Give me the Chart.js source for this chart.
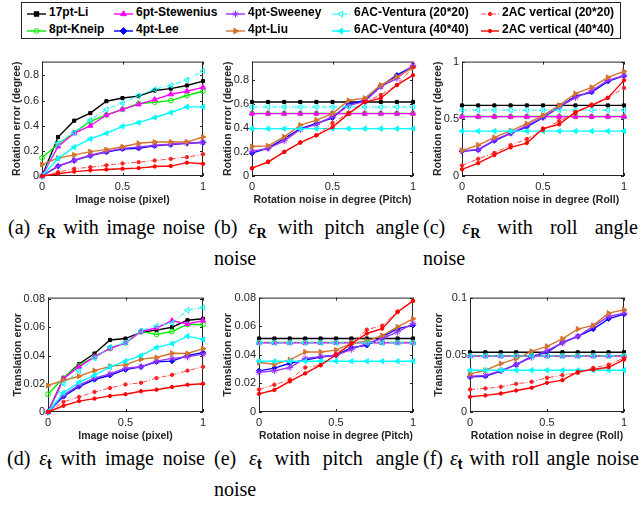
<!DOCTYPE html>
<html><head><meta charset="utf-8">
<script src="https://cdn.jsdelivr.net/npm/chart.js@4.4.0/dist/chart.umd.min.js"></script>
<style>
html,body{margin:0;padding:0;background:#fff;}
body{width:644px;height:506px;position:relative;overflow:hidden;font-family:'Liberation Sans',Arial,sans-serif;}
canvas{position:absolute;}
#legend{position:absolute;left:21px;top:2px;width:600px;height:37px;border:1px solid #262626;box-sizing:border-box;background:#fff;}
.li{position:absolute;font-weight:bold;font-size:12px;color:#000;white-space:nowrap;line-height:14px;}
.lm{position:absolute;}
.cap{position:absolute;font-family:'Liberation Serif','Times New Roman',serif;font-size:20px;line-height:20px;white-space:nowrap;color:#000;}
.cap sub{font-size:70%;vertical-align:-0.25em;line-height:0;}
.cap .eps{font-style:italic;}
.cap .bR{font-weight:bold;}
.cap .bt{font-weight:bold;font-family:'Liberation Sans',Arial,sans-serif;}
</style></head><body>
<div id="legend"></div>
<script>
// ---------- data ----------
const XS = [0, 0.1, 0.2, 0.3, 0.4, 0.5, 0.6, 0.7, 0.8, 0.9, 1.0];
const SERIES = ['17pt-Li','8pt-Kneip','6pt-Stewenius','4pt-Lee','4pt-Sweeney','4pt-Liu',
  '6AC-Ventura (20*20)','6AC-Ventura (40*40)','2AC vertical (20*20)','2AC vertical (40*40)'];

// (a) rotation error vs image noise
const ROT_IMAGE = [
  [0, 0.31, 0.44, 0.50, 0.595, 0.62, 0.635, 0.68, 0.695, 0.72, 0.755],
  [0.145, 0.255, 0.345, 0.435, 0.485, 0.53, 0.577, 0.587, 0.60, 0.64, 0.674],
  [0, 0.235, 0.34, 0.40, 0.485, 0.53, 0.57, 0.608, 0.65, 0.674, 0.705],
  [0, 0.078, 0.122, 0.162, 0.19, 0.215, 0.22, 0.24, 0.25, 0.26, 0.268],
  [0, 0.078, 0.125, 0.165, 0.195, 0.22, 0.23, 0.245, 0.252, 0.262, 0.265],
  [0.092, 0.142, 0.168, 0.194, 0.21, 0.233, 0.26, 0.27, 0.27, 0.27, 0.31],
  [0, 0.26, 0.345, 0.445, 0.53, 0.58, 0.64, 0.69, 0.72, 0.765, 0.835],
  [0, 0.14, 0.23, 0.295, 0.34, 0.395, 0.425, 0.465, 0.505, 0.55, 0.55],
  [0, 0.03, 0.058, 0.07, 0.085, 0.1, 0.11, 0.123, 0.136, 0.15, 0.173],
  [0, 0.018, 0.035, 0.045, 0.052, 0.058, 0.063, 0.076, 0.079, 0.106, 0.097]
];
// (b) rotation error vs pitch noise
const ROT_PITCH = [
  [0.615, 0.615, 0.615, 0.615, 0.615, 0.615, 0.615, 0.615, 0.615, 0.615, 0.615],
  [0.52, 0.52, 0.52, 0.52, 0.52, 0.52, 0.52, 0.52, 0.52, 0.52, 0.52],
  [0.518, 0.518, 0.518, 0.518, 0.518, 0.518, 0.518, 0.518, 0.518, 0.518, 0.518],
  [0.19, 0.232, 0.31, 0.393, 0.436, 0.483, 0.597, 0.627, 0.747, 0.837, 0.91],
  [0.205, 0.229, 0.292, 0.387, 0.428, 0.496, 0.584, 0.619, 0.742, 0.81, 0.92],
  [0.245, 0.25, 0.325, 0.423, 0.464, 0.518, 0.627, 0.646, 0.755, 0.824, 0.9],
  [0.573, 0.573, 0.573, 0.573, 0.573, 0.573, 0.573, 0.573, 0.573, 0.573, 0.573],
  [0.393, 0.393, 0.393, 0.393, 0.393, 0.393, 0.393, 0.393, 0.393, 0.393, 0.393],
  [0.065, 0.12, 0.2, 0.278, 0.338, 0.44, 0.523, 0.619, 0.673, 0.755, 0.905],
  [0.065, 0.115, 0.2, 0.278, 0.338, 0.406, 0.518, 0.614, 0.646, 0.755, 0.837]
];
// (c) rotation error vs roll noise
const ROT_ROLL = [
  [0.617, 0.617, 0.617, 0.617, 0.617, 0.617, 0.617, 0.617, 0.617, 0.617, 0.617],
  [0.52, 0.52, 0.52, 0.52, 0.52, 0.52, 0.52, 0.52, 0.52, 0.52, 0.52],
  [0.519, 0.519, 0.519, 0.519, 0.519, 0.519, 0.519, 0.519, 0.519, 0.519, 0.519],
  [0.216, 0.228, 0.308, 0.372, 0.43, 0.51, 0.602, 0.697, 0.732, 0.827, 0.876],
  [0.22, 0.23, 0.315, 0.375, 0.44, 0.515, 0.605, 0.685, 0.745, 0.835, 0.878],
  [0.222, 0.27, 0.337, 0.395, 0.458, 0.53, 0.617, 0.72, 0.775, 0.862, 0.914],
  [0.576, 0.576, 0.576, 0.576, 0.576, 0.576, 0.576, 0.576, 0.576, 0.576, 0.576],
  [0.392, 0.392, 0.392, 0.392, 0.392, 0.392, 0.392, 0.392, 0.392, 0.392, 0.392],
  [0.092, 0.15, 0.202, 0.27, 0.323, 0.403, 0.481, 0.548, 0.625, 0.683, 0.77],
  [0.058, 0.112, 0.184, 0.25, 0.288, 0.415, 0.452, 0.559, 0.617, 0.683, 0.836]
];
// (d) translation error vs image noise
const TRA_IMAGE = [
  [0, 0.024, 0.034, 0.0414, 0.051, 0.052, 0.0565, 0.058, 0.060, 0.065, 0.066],
  [0.0126, 0.024, 0.033, 0.039, 0.045, 0.049, 0.057, 0.055, 0.057, 0.062, 0.062],
  [0, 0.0235, 0.032, 0.039, 0.045, 0.049, 0.057, 0.0595, 0.0647, 0.0623, 0.0647],
  [0, 0.011, 0.018, 0.023, 0.026, 0.030, 0.032, 0.0356, 0.036, 0.040, 0.042],
  [0, 0.012, 0.019, 0.024, 0.027, 0.031, 0.032, 0.036, 0.038, 0.039, 0.041],
  [0.0188, 0.0223, 0.0253, 0.0293, 0.0323, 0.0335, 0.0374, 0.0386, 0.0416, 0.0414, 0.0449],
  [0, 0.02, 0.029, 0.038, 0.046, 0.049, 0.0577, 0.061, 0.063, 0.072, 0.074],
  [0, 0.0137, 0.021, 0.026, 0.032, 0.036, 0.040, 0.0456, 0.0484, 0.0537, 0.0514],
  [0, 0.0072, 0.0107, 0.0142, 0.017, 0.0195, 0.0207, 0.024, 0.0263, 0.0293, 0.032],
  [0, 0.0044, 0.0077, 0.0095, 0.0114, 0.0126, 0.0147, 0.0158, 0.0177, 0.0193, 0.02]
];
// (e) translation error vs pitch noise
const TRA_PITCH = [
  [0.0514, 0.0514, 0.0514, 0.0514, 0.0514, 0.0514, 0.0514, 0.0514, 0.0514, 0.0514, 0.0514],
  [0.0486, 0.0486, 0.0486, 0.0486, 0.0486, 0.0486, 0.0486, 0.0486, 0.0486, 0.0486, 0.0486],
  [0.0484, 0.0484, 0.0484, 0.0484, 0.0484, 0.0484, 0.0484, 0.0484, 0.0484, 0.0484, 0.0484],
  [0.0288, 0.0307, 0.0341, 0.0364, 0.0385, 0.0397, 0.045, 0.0466, 0.0526, 0.0583, 0.0606],
  [0.0277, 0.0288, 0.0311, 0.0374, 0.0387, 0.0397, 0.0438, 0.048, 0.0514, 0.056, 0.0618],
  [0.0346, 0.0334, 0.0364, 0.042, 0.042, 0.0433, 0.048, 0.0496, 0.0535, 0.0595, 0.0652],
  [0.0484, 0.0484, 0.0484, 0.0484, 0.0484, 0.0484, 0.0484, 0.0484, 0.0484, 0.0484, 0.0484],
  [0.0355, 0.0355, 0.0355, 0.0355, 0.0355, 0.0355, 0.0355, 0.0355, 0.0355, 0.0355, 0.0355],
  [0.0157, 0.0191, 0.0226, 0.0311, 0.0327, 0.0404, 0.0484, 0.0576, 0.0604, 0.0703, 0.0777],
  [0.0127, 0.0154, 0.0214, 0.027, 0.0327, 0.040, 0.0477, 0.0549, 0.0583, 0.0699, 0.0777]
];
// (f) translation error vs roll noise
const TRA_ROLL = [
  [0.0522, 0.0522, 0.0522, 0.0522, 0.0522, 0.0522, 0.0522, 0.0522, 0.0522, 0.0522, 0.0522],
  [0.0492, 0.0492, 0.0492, 0.0492, 0.0492, 0.0492, 0.0492, 0.0492, 0.0492, 0.0492, 0.0492],
  [0.0488, 0.0488, 0.0488, 0.0488, 0.0488, 0.0488, 0.0488, 0.0488, 0.0488, 0.0488, 0.0488],
  [0.0307, 0.0313, 0.0357, 0.0414, 0.0487, 0.0522, 0.0609, 0.0661, 0.0725, 0.0814, 0.0855],
  [0.0313, 0.0319, 0.0362, 0.0414, 0.0478, 0.0536, 0.0603, 0.0661, 0.0748, 0.0835, 0.0864],
  [0.0333, 0.0365, 0.0423, 0.0467, 0.053, 0.0574, 0.064, 0.0725, 0.0757, 0.0864, 0.0893],
  [0.0490, 0.0490, 0.0490, 0.0490, 0.0490, 0.0490, 0.0490, 0.0490, 0.0490, 0.0490, 0.0490],
  [0.0365, 0.0365, 0.0365, 0.0365, 0.0365, 0.0365, 0.0365, 0.0365, 0.0365, 0.0365, 0.0365],
  [0.0197, 0.0206, 0.022, 0.0246, 0.0264, 0.0299, 0.0322, 0.0342, 0.0386, 0.0414, 0.0472],
  [0.0133, 0.0145, 0.0162, 0.0188, 0.0212, 0.0255, 0.0278, 0.0351, 0.0371, 0.0391, 0.0458]
];

const X_TICKS = [0, 0.5, 1];
const X_TICK_LABELS = ['0', '0.5', '1'];
const Y_TICKS_ROT = [0, 0.2, 0.4, 0.6, 0.8];
const Y_TICK_LABELS_ROT = ['0', '0.2', '0.4', '0.6', '0.8'];
const Y_TICKS_ROLL = [0, 0.5, 1];
const Y_TICK_LABELS_ROLL = ['0', '0.5', '1'];
const Y_TICKS_TRA = [0, 0.02, 0.04, 0.06, 0.08];
const Y_TICK_LABELS_TRA = ['0', '0.02', '0.04', '0.06', '0.08'];
const Y_TICKS_TRA_ROLL = [0, 0.05, 0.1];
const Y_TICK_LABELS_TRA_ROLL = ['0', '0.05', '0.1'];

// ---------- styles ----------
const STYLE = [
  {color:'#000000', marker:'rect',     r:2.2, fill:true,  rot:0,   dash:[],        w:1.4},
  {color:'#00ee00', marker:'circle',   r:2.4, fill:false, rot:0,   dash:[],        w:1.4},
  {color:'#ff00ff', marker:'triangle', r:3.0, fill:true,  rot:0,   dash:[],        w:1.4},
  {color:'#0000ff', marker:'rectRot',  r:2.6, fill:true,  rot:0,   dash:[],        w:1.4},
  {color:'#9933ff', marker:'star',     r:3.4, fill:false, rot:0,   dash:[],        w:1.4},
  {color:'#d2742f', marker:'triangle', r:3.0, fill:true,  rot:90,  dash:[],        w:1.4},
  {color:'#00ffff', marker:'triangle', r:3.0, fill:false, rot:-90, dash:[5,2,1,2], w:1.0},
  {color:'#00ffff', marker:'triangle', r:3.0, fill:true,  rot:-90, dash:[],        w:1.4},
  {color:'#ff2020', marker:'circle',   r:1.7, fill:true,  rot:0,   dash:[5,2,1,2], w:0.8},
  {color:'#ff0000', marker:'circle',   r:1.7, fill:true,  rot:0,   dash:[],        w:1.4}
];

const YW = 44, PT = 8, PR = 10, XH = 30;
const PANELS = [
  {l:42,  t:60,  r:203, b:176, ymax:0.91,  data:ROT_IMAGE, yt:Y_TICKS_ROT,      yl:Y_TICK_LABELS_ROT,      ylab:'Rotation error (degree)', xlab:'Image noise (pixel)', ytc:25},
  {l:252, t:60,  r:413, b:176, ymax:0.95,  data:ROT_PITCH, yt:Y_TICKS_ROT,      yl:Y_TICK_LABELS_ROT,      ylab:'Rotation error (degree)', xlab:'Rotation noise in degree (Pitch)', ytc:24},
  {l:462, t:60,  r:624, b:176, ymax:1.0,   data:ROT_ROLL,  yt:Y_TICKS_ROLL,     yl:Y_TICK_LABELS_ROLL,     ylab:'Rotation error (degree)', xlab:'Rotation noise in degree (Roll)', ytc:24},
  {l:48,  t:296, r:203, b:412, ymax:0.081, data:TRA_IMAGE, yt:Y_TICKS_TRA,      yl:Y_TICK_LABELS_TRA,      ylab:'Translation error', xlab:'Image noise (pixel)', ytc:30},
  {l:259, t:296, r:413, b:412, ymax:0.08,  data:TRA_PITCH, yt:Y_TICKS_TRA,      yl:Y_TICK_LABELS_TRA,      ylab:'Translation error', xlab:'Rotation noise in degree (Pitch)', ytc:31},
  {l:470, t:296, r:624, b:412, ymax:0.1,   data:TRA_ROLL,  yt:Y_TICKS_TRA_ROLL, yl:Y_TICK_LABELS_TRA_ROLL, ylab:'Translation error', xlab:'Rotation noise in degree (Roll)', ytc:31}
];

Chart.defaults.font.family = "'Liberation Sans', Arial, Helvetica, sans-serif";

const framePlugin = {
  id: 'frame',
  beforeDatasetsDraw(chart) {
    const {ctx, chartArea: a, scales: {x, y}} = chart;
    ctx.save();
    ctx.strokeStyle = '#262626';
    ctx.lineWidth = 1;
    ctx.strokeRect(a.left + 0.5, a.top + 0.5, a.right - a.left - 1, a.bottom - a.top - 1);
    ctx.beginPath();
    const L = 3;
    x.ticks.forEach(t => {
      const px = Math.round(x.getPixelForValue(t.value)) + 0.5;
      ctx.moveTo(px, a.bottom); ctx.lineTo(px, a.bottom - L);
      ctx.moveTo(px, a.top); ctx.lineTo(px, a.top + L);
    });
    y.ticks.forEach(t => {
      const py = Math.round(y.getPixelForValue(t.value)) + 0.5;
      ctx.moveTo(a.left, py); ctx.lineTo(a.left + L, py);
      ctx.moveTo(a.right, py); ctx.lineTo(a.right - L, py);
    });
    ctx.stroke();
    ctx.restore();
  }
};

function makePanel(p) {
  const cv = document.createElement('canvas');
  const W = p.r - p.l + YW + PR, H = p.b - p.t + PT + XH;
  cv.width = W; cv.height = H;
  cv.style.left = (p.l - YW) + 'px'; cv.style.top = (p.t - PT) + 'px';
  cv.style.width = W + 'px'; cv.style.height = H + 'px';
  document.body.appendChild(cv);
  const datasets = SERIES.map((name, i) => {
    const s = STYLE[i];
    return {
      label: name,
      data: XS.map((xv, k) => ({x: xv, y: p.data[i][k]})),
      borderColor: s.color, borderWidth: s.w, borderDash: s.dash,
      pointStyle: s.marker, pointRadius: s.r, pointRotation: s.rot,
      pointBorderColor: s.color, pointBackgroundColor: s.fill ? s.color : 'rgba(0,0,0,0)',
      pointBorderWidth: 1, tension: 0, fill: false, clip: false,
      order: SERIES.length - i
    };
  });
  const lh = 10.5 * 1.2;
  new Chart(cv, {
    type: 'line',
    data: {datasets},
    plugins: [framePlugin],
    options: {
      responsive: false, animation: false, devicePixelRatio: 1,
      layout: {padding: {left: 0, top: PT, right: PR, bottom: 0}},
      plugins: {legend: {display: false}, tooltip: {enabled: false}},
      scales: {
        x: {
          type: 'linear', min: 0, max: 1,
          afterBuildTicks: s => { s.ticks = X_TICKS.map(v => ({value: v})); },
          afterFit: s => { s.height = XH; },
          grid: {display: false, drawTicks: false}, border: {display: false},
          ticks: {padding: 4, maxRotation: 0, autoSkip: false, font: {size: 11}, color: '#262626',
                  callback: (v, i) => X_TICK_LABELS[i]},
          title: {display: true, text: p.xlab, color: '#262626', font: {size: 10.5, weight: 'bold'},
                  padding: {top: 0, bottom: 0}}
        },
        y: {
          type: 'linear', min: 0, max: p.ymax,
          afterBuildTicks: s => { s.ticks = p.yt.map(v => ({value: v})); },
          afterFit: s => { s.width = YW; },
          grid: {display: false, drawTicks: false}, border: {display: false},
          ticks: {padding: 3, autoSkip: false, font: {size: 11}, color: '#262626',
                  callback: (v, i) => p.yl[i]},
          title: {display: true, text: p.ylab, color: '#262626', font: {size: 10.5, weight: 'bold'},
                  padding: {top: YW - p.ytc - lh / 2, bottom: 0}}
        }
      }
    }
  });
}
PANELS.forEach(makePanel);

// ---------- legend ----------
const LEG_COLS = [[27, 46, 49], [114, 133, 136], [226, 245, 248], [332, 350, 354], [481, 499, 502]];
const LEG_ROWS = [11.5, 28.5];
function markerSvg(s, cx, cy) {
  const f = s.fill ? s.color : 'none', c = s.color, r = s.r;
  const tri = (rot) => {
    const pts = [];
    for (let k = 0; k < 3; k++) {
      const a = (rot - 90 + k * 120) * Math.PI / 180;
      pts.push((cx + r * 1.1 * Math.cos(a)).toFixed(2) + ',' + (cy + r * 1.1 * Math.sin(a)).toFixed(2));
    }
    return `<polygon points="${pts.join(' ')}" fill="${f}" stroke="${c}" stroke-width="1"/>`;
  };
  switch (s.marker) {
    case 'rect': return `<rect x="${cx - r}" y="${cy - r}" width="${2 * r}" height="${2 * r}" fill="${f}" stroke="${c}"/>`;
    case 'circle': return `<circle cx="${cx}" cy="${cy}" r="${r}" fill="${f}" stroke="${c}"/>`;
    case 'rectRot': return `<polygon points="${cx},${cy - r * 1.3} ${cx + r * 1.3},${cy} ${cx},${cy + r * 1.3} ${cx - r * 1.3},${cy}" fill="${f}" stroke="${c}"/>`;
    case 'star': {
      let d = '';
      for (let k = 0; k < 4; k++) {
        const a = k * Math.PI / 4;
        d += `M${cx - r * Math.cos(a)},${cy - r * Math.sin(a)}L${cx + r * Math.cos(a)},${cy + r * Math.sin(a)}`;
      }
      return `<path d="${d}" stroke="${c}" stroke-width="1"/>`;
    }
    case 'triangle': return tri(s.rot);
  }
  return '';
}
SERIES.forEach((name, i) => {
  const s = STYLE[i];
  const col = LEG_COLS[Math.floor(i / 2)], rowY = LEG_ROWS[i % 2];
  const w = col[1] - col[0] + 4;
  const svg = document.createElement('div');
  svg.className = 'lm';
  svg.style.left = (col[0] - 2) + 'px'; svg.style.top = (rowY - 6) + 'px';
  const dash = s.dash.length ? `stroke-dasharray="${s.dash.join(',')}"` : '';
  svg.innerHTML = `<svg width="${w}" height="12" xmlns="http://www.w3.org/2000/svg">
    <line x1="2" y1="6" x2="${w - 2}" y2="6" stroke="${s.color}" stroke-width="${s.w}" ${dash}/>
    ${markerSvg(s, w / 2, 6)}</svg>`;
  document.body.appendChild(svg);
  const t = document.createElement('div');
  t.className = 'li'; t.textContent = name;
  t.style.left = col[2] + 'px'; t.style.top = (rowY - 7) + 'px';
  document.body.appendChild(t);
});

// ---------- captions ----------
const R_SUB = '<span class="eps">ε</span><sub class="bR">R</sub>';
const T_SUB = '<span class="eps">ε</span><sub class="bt">t</sub>';
const CAPTIONS = [
  {html: '(a) ' + R_SUB + ' with image noise', x: 8, w: 197, y: 227},
  {html: '(b) ' + R_SUB + ' with pitch angle', x: 214, w: 205, y: 227},
  {html: 'noise', x: 214, w: 0, y: 258},
  {html: '(c) ' + R_SUB + ' with roll angle', x: 423, w: 215, y: 227},
  {html: 'noise', x: 423, w: 0, y: 258},
  {html: '(d) ' + T_SUB + ' with image noise', x: 7, w: 198, y: 458},
  {html: '(e) ' + T_SUB + ' with pitch angle', x: 214, w: 205, y: 458},
  {html: 'noise', x: 214, w: 0, y: 489},
  {html: '(f) ' + T_SUB + ' with roll angle noise', x: 423, w: 216, y: 458}
];
CAPTIONS.forEach(c => {
  const d = document.createElement('div');
  d.className = 'cap';
  d.innerHTML = c.html;
  d.style.left = c.x + 'px';
  d.style.top = (c.y - 10) + 'px';
  document.body.appendChild(d);
  if (c.w > 0) {
    const nat = d.getBoundingClientRect().width;
    const n = (d.textContent.match(/ /g) || []).length;
    if (n > 0) d.style.wordSpacing = ((c.w - nat) / n) + 'px';
  }
});
</script>
</body></html>
